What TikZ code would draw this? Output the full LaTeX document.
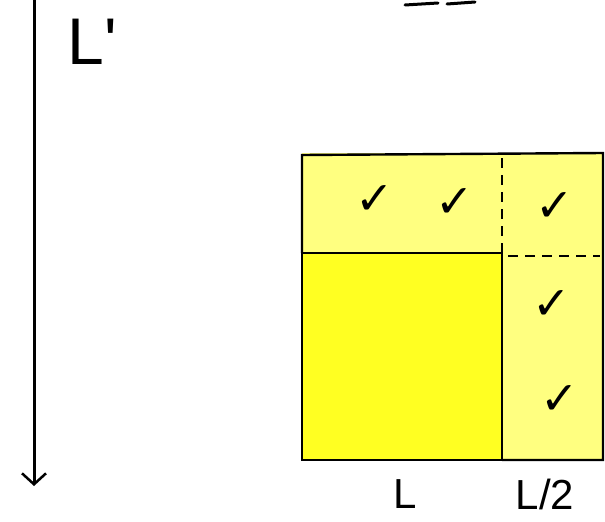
\documentclass[tikz,border=0pt]{standalone}
\usepackage{fontspec}
\setmainfont{Liberation Sans}
\newfontfamily\symfont{DejaVu Sans}
\usetikzlibrary{arrows.meta}
\definecolor{paleyel}{HTML}{FFFF80}
\definecolor{brightyel}{HTML}{FFFF22}
\begin{document}
\begin{tikzpicture}[x=1pt,y=-1pt,
  edge/.style={draw=black,line width=2.4pt},
  dashline/.style={draw=black,line width=1.6pt,dash pattern=on 10pt off 7pt},
  tick/.style={font=\symfont\fontsize{46}{48}\selectfont,inner sep=0pt},
  lab/.style={font=\fontsize{42}{46}\selectfont,inner sep=0pt}]
\useasboundingbox (0,0) rectangle (605,522);
% outer square
\fill[paleyel] (302,153) rectangle (603,460);
\filldraw[fill=brightyel,edge] (302,253) rectangle (502,460);
\draw[edge] (302,253) -- (302,155) -- (603,153) -- (603,460) -- (502,460);
\draw[dashline] (502,158) -- (502,253);
\draw[dashline] (508,256) -- (600,256);
% axis
\coordinate (axtop) at (34,0);
\coordinate (axbot) at (34,486);
\draw[line width=3pt,-{Straight Barb[length=11pt,width=24pt,line width=2.5pt]}] (axtop) -- (axbot);
% cut-off strokes at top
\draw[line width=3pt,line cap=round] (405,5) -- (438,3);
\draw[line width=3pt,line cap=round] (447,4) -- (475,2);
% labels
\node[font=\fontsize{66}{70}\selectfont,inner sep=0pt] (lp) at (92,42) {L\textquotesingle};
\node[lab] (lL) at (405,494) {L};
\node[lab] (lhalf) at (545,494) {L/2};
% checks
\node[tick] (c1) at (375,200) {✓};
\node[tick] (c2) at (455,203) {✓};
\node[tick] (c3) at (555,207) {✓};
\node[tick] (c4) at (552,305) {✓};
\node[tick] (c5) at (560,400) {✓};
\end{tikzpicture}
\end{document}
